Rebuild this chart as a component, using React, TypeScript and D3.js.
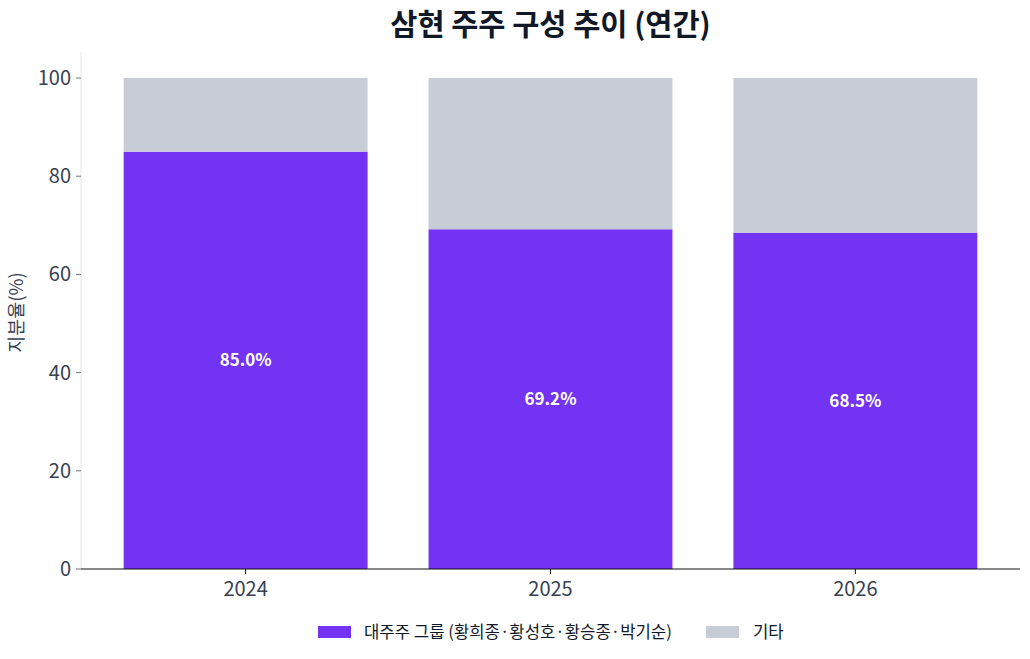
import React from 'react';
import * as d3 from 'd3';

const years = ['2024', '2025', '2026'];
const majorShare = [85.0, 69.2, 68.5];
const otherShare = [15.0, 30.8, 31.5];
const yTicks = [0, 20, 40, 60, 80, 100];
const seriesNames = ['대주주 그룹 (황희종·황성호·황승종·박기순)', '기타'];

const W = 1030;
const H = 659;
const FONT = '"Noto Sans CJK KR", "Noto Sans", sans-serif';
const PURPLE = '#7233F2';
const GRAY = '#C8CCD6';
const TEXT = '#374151';

const App: React.FC = () => {
  const left = 81;
  const right = 1020;
  const top = 52;
  const bottom = 569;

  const x = d3.scaleLinear().domain([-0.54, 2.54]).range([left, right]);
  const y = d3.scaleLinear().domain([0, 105.3]).range([bottom, top]);
  const barW = x(0.4) - x(-0.4);

  return (
    <svg width={W} height={H} style={{ display: 'block', position: 'absolute', left: 0, top: 0, background: '#fff' }}>
      {/* title */}
      <text x={(left + right) / 2} y={35} textAnchor="middle" fontFamily={FONT} fontWeight={700} fontSize={29.5} fill="#111827">
        삼현 주주 구성 추이 (연간)
      </text>

      {/* bars */}
      {years.map((yr, i) => (
        <g key={yr}>
          <rect x={x(i) - barW / 2} y={y(majorShare[i])} width={barW} height={y(0) - y(majorShare[i])} fill={PURPLE} />
          <rect
            x={x(i) - barW / 2}
            y={y(majorShare[i] + otherShare[i])}
            width={barW}
            height={y(majorShare[i]) - y(majorShare[i] + otherShare[i])}
            fill={GRAY}
          />
          <text
            x={x(i)}
            y={y(majorShare[i] / 2)}
            dy="0.35em"
            textAnchor="middle"
            fontFamily={FONT}
            fontWeight={700}
            fontSize={17}
            fill="#fff"
          >
            {majorShare[i].toFixed(1)}%
          </text>
        </g>
      ))}

      {/* y axis */}
      <line x1={left} x2={left} y1={top} y2={bottom} stroke="#E5E7EB" strokeWidth={1} />
      {yTicks.map((t) => (
        <g key={t}>
          <line x1={left - 5} x2={left} y1={y(t)} y2={y(t)} stroke="#6B7280" strokeWidth={1} />
          <text x={left - 10} y={y(t)} dy="0.35em" textAnchor="end" fontFamily={FONT} fontSize={20} fill={TEXT}>
            {t}
          </text>
        </g>
      ))}
      <text
        transform={`translate(${23},${(top + bottom) / 2 + 2}) rotate(-90)`}
        textAnchor="middle"
        fontFamily={FONT}
        fontSize={18.5}
        fill={TEXT}
      >
        지분율(%)
      </text>

      {/* x axis */}
      <line x1={left} x2={right} y1={bottom} y2={bottom} stroke="#111" strokeWidth={1} />
      {years.map((yr, i) => (
        <g key={yr}>
          <line x1={x(i)} x2={x(i)} y1={bottom} y2={bottom + 5} stroke="#111" strokeWidth={1} />
          <text x={x(i)} y={bottom + 20} dy="0.35em" textAnchor="middle" fontFamily={FONT} fontSize={20} fill={TEXT}>
            {yr}
          </text>
        </g>
      ))}

      {/* legend */}
      <rect x={318} y={626} width={33} height={12} fill={PURPLE} />
      <text x={364} y={632} dy="0.35em" fontFamily={FONT} fontSize={16.7} fill="#111827">
        {seriesNames[0]}
      </text>
      <rect x={706} y={626} width={33} height={12} fill={GRAY} />
      <text x={753} y={632} dy="0.35em" fontFamily={FONT} fontSize={16.7} fill="#111827">
        {seriesNames[1]}
      </text>
    </svg>
  );
};

export default App;
